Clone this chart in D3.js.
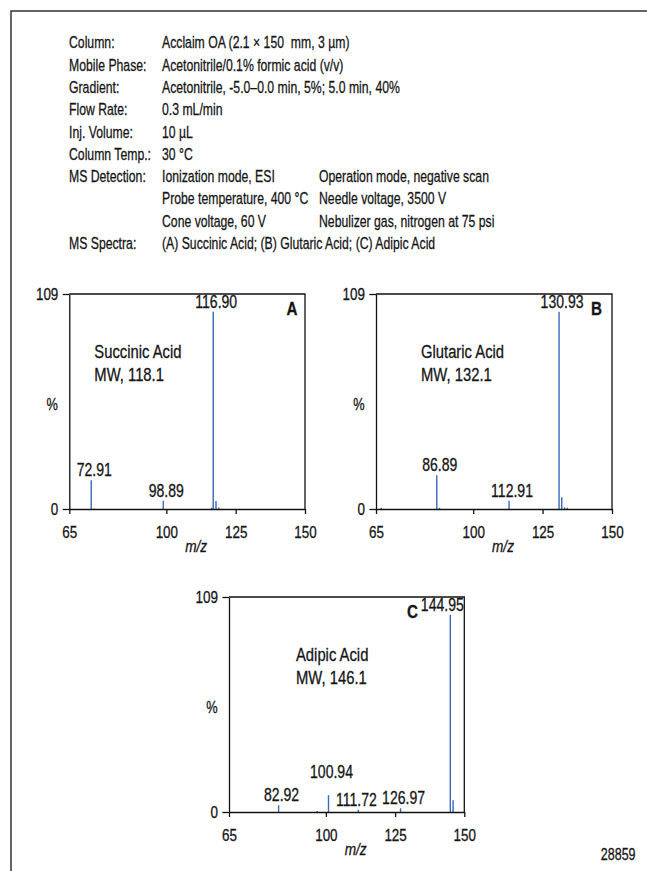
<!DOCTYPE html>
<html>
<head>
<meta charset="utf-8">
<script src="https://cdn.jsdelivr.net/npm/d3@7"></script>
<style>
  html, body { margin: 0; padding: 0; background: #fff; }
  svg text { font-family: 'Liberation Sans', Arial, sans-serif; fill: #151515; stroke: #151515; stroke-width: 0.3px; }
</style>
</head>
<body>
<div id="chart"></div>
<script>
'use strict';

// conditions block
const headerLabels = ["Column:", "Mobile Phase:", "Gradient:", "Flow Rate:", "Inj. Volume:",
    "Column Temp.:", "MS Detection:", "", "", "MS Spectra:"];
const headerValues = ["Acclaim OA (2.1 \u00d7 150  mm, 3 \u00b5m)", "Acetonitrile/0.1% formic acid (v/v)",
    "Acetonitrile, -5.0\u20130.0 min, 5%; 5.0 min, 40%", "0.3 mL/min", "10 \u00b5L", "30 \u00b0C",
    "Ionization mode, ESI", "Probe temperature, 400 \u00b0C", "Cone voltage, 60 V",
    "(A) Succinic Acid; (B) Glutaric Acid; (C) Adipic Acid"];
const headerExtra = ["", "", "", "", "", "", "Operation mode, negative scan",
    "Needle voltage, 3500 V", "Nebulizer gas, nitrogen at 75 psi", ""];

// spectra
const panelLetters = ["A", "B", "C"];
const compoundNames = ["Succinic Acid", "Glutaric Acid", "Adipic Acid"];
const molWeights = ["MW, 118.1", "MW, 132.1", "MW, 146.1"];

const mzA = [72.91, 73.9, 98.89, 116.4, 116.90, 117.9, 118.9];
const relA = [14.6, 0.3, 4.2, 0.6, 100, 4.0, 0.8];
const labelsA = ["72.91", "98.89", "116.90"];

const mzB = [66.9, 86.89, 87.9, 112.91, 130.93, 131.9, 132.9, 133.9];
const relB = [0.6, 17.1, 0.6, 4.2, 100, 5.9, 0.8, 0.6];
const labelsB = ["86.89", "112.91", "130.93"];

const mzC = [82.92, 96.9, 100.94, 111.72, 126.97, 144.95, 145.95];
const relC = [3.4, 0.5, 8.5, 1.2, 1.9, 100, 5.9];
const labelsC = ["82.92", "100.94", "111.72", "126.97", "144.95"];

const xTicks = [65, 100, 125, 150];
const yTicks = [0, 109];
const figureId = "28859";

const width = 647;
const height = 871;
const peakColor = "#3b68bd";

// move x/y into a transform so the glyphs can be squeezed (condensed look)
function narrow(sel, k) {
    sel.each(function () {
        const t = d3.select(this);
        const tx = +t.attr("x") || 0;
        const ty = +t.attr("y") || 0;
        t.attr("x", 0).attr("y", 0)
            .attr("transform", `translate(${tx},${ty}) scale(${k},1)`);
    });
}

const svg = d3.select("#chart")
    .append("svg")
    .attr("width", width)
    .attr("height", height);

// outer frame (left + top)
svg.append("path")
    .attr("fill", "none")
    .attr("stroke", "#333")
    .attr("stroke-width", 1.5)
    .attr("d", d3.line()([[11, height], [11, 11], [width, 11]]));

// header
const rowY = i => 48.3 + i * 22.3;
const header = svg.append("g").style("font-size", "17px");
header.selectAll(".hl").data(headerLabels).join("text")
    .attr("x", 69).attr("y", (d, i) => rowY(i)).text(d => d);
header.selectAll(".hv").data(headerValues).join("text")
    .attr("x", 162).attr("y", (d, i) => rowY(i)).style("white-space", "pre").text(d => d);
header.selectAll(".he").data(headerExtra).join("text")
    .attr("x", 319).attr("y", (d, i) => rowY(i)).text(d => d);
header.selectAll("text").call(narrow, 0.72);

const layout = [
    { x0: 69.3, x1: 305, y0: 294, y1: 509, nameDx: 25, letterX: 297.5, letterAnchor: "end" },
    { x0: 376, x1: 612, y0: 294, y1: 509, nameDx: 45, letterX: 602, letterAnchor: "end" },
    { x0: 229, x1: 464.3, y0: 597, y1: 812, nameDx: 67, letterX: 407, letterAnchor: "start" }
];
const labelShift = { "144.95": [-11, 0], "111.72": [-5, 0], "100.94": [0, -13] };

const spectra = [
    { mz: mzA, rel: relA, labels: labelsA },
    { mz: mzB, rel: relB, labels: labelsB },
    { mz: mzC, rel: relC, labels: labelsC }
];

spectra.forEach((s, k) => {
    const L = layout[k];
    const x = d3.scaleLinear().domain([65, 150]).range([L.x0, L.x1]);
    const y = d3.scaleLinear().domain([0, 109]).range([L.y1, L.y0]);
    const g = svg.append("g");

    // frame: top and right
    g.append("path")
        .attr("fill", "none").attr("stroke", "#111").attr("stroke-width", 1.3)
        .attr("d", d3.line()([[x(65), y(109)], [x(150), y(109)], [x(150), y(0)]]));

    // peaks
    g.selectAll("line.peak").data(s.mz).join("line")
        .attr("class", "peak")
        .attr("x1", d => x(d)).attr("x2", d => x(d))
        .attr("y1", y(0)).attr("y2", (d, i) => y(s.rel[i]))
        .attr("stroke", peakColor).attr("stroke-width", 1.4);

    // axes
    const xAxis = g.append("g")
        .attr("transform", `translate(0,${y(0)})`)
        .call(d3.axisBottom(x).tickValues(xTicks).tickFormat(d3.format("d"))
            .tickSize(5).tickSizeOuter(0).tickPadding(12));
    const yAxis = g.append("g")
        .attr("transform", `translate(${x(65)},0)`)
        .call(d3.axisLeft(y).tickValues(yTicks).tickFormat(d3.format("d"))
            .tickSize(6.6).tickSizeOuter(0).tickPadding(4.4));
    [xAxis, yAxis].forEach(a => {
        a.selectAll("path, line").attr("stroke", "#111").attr("stroke-width", 1.3);
        a.selectAll("text").attr("fill", "#151515").style("font-size", "17px")
            .style("font-family", "'Liberation Sans', Arial, sans-serif")
            .call(narrow, 0.79);
    });

    // axis titles
    const xMid = (L.x0 + L.x1) / 2;
    const unit = g.append("text")
        .attr("x", xMid + 9).attr("y", y(0) + 43)
        .attr("text-anchor", "middle")
        .style("font-size", "17px").style("font-style", "italic")
        .text("m/z");
    const pct = g.append("text")
        .attr("x", L.x0 - 17).attr("y", (L.y0 + L.y1) / 2 + 8.5)
        .attr("text-anchor", "middle")
        .style("font-size", "16px")
        .text("%");

    // peak labels
    const plabels = g.selectAll("text.plabel").data(s.labels).join("text")
        .attr("class", "plabel")
        .attr("text-anchor", "middle")
        .attr("x", d => x(+d) + 3 + (labelShift[d] ? labelShift[d][0] : 0))
        .attr("y", d => {
            const i = s.mz.indexOf(+d);
            return y(s.rel[i]) - 4 + (labelShift[d] ? labelShift[d][1] : 0);
        })
        .style("font-size", "18px")
        .text(d => d);

    // compound name
    const n1 = g.append("text").attr("x", L.x0 + L.nameDx).attr("y", L.y0 + 63.5)
        .style("font-size", "18.5px").text(compoundNames[k]);
    const n2 = g.append("text").attr("x", L.x0 + L.nameDx).attr("y", L.y0 + 87)
        .style("font-size", "18.5px").text(molWeights[k]);

    // panel letter
    const letter = g.append("text").attr("x", L.letterX).attr("y", L.y0 + 21)
        .attr("text-anchor", L.letterAnchor)
        .style("font-size", "19px").style("font-weight", "bold")
        .text(panelLetters[k]);

    [unit, pct, n1, n2, letter].forEach(t => t.call(narrow, 0.8));
    plabels.call(narrow, 0.78);
});

svg.append("text")
    .attr("x", 635.5).attr("y", 860)
    .attr("text-anchor", "end")
    .style("font-size", "16px")
    .text(figureId)
    .call(narrow, 0.78);
</script>
</body>
</html>
